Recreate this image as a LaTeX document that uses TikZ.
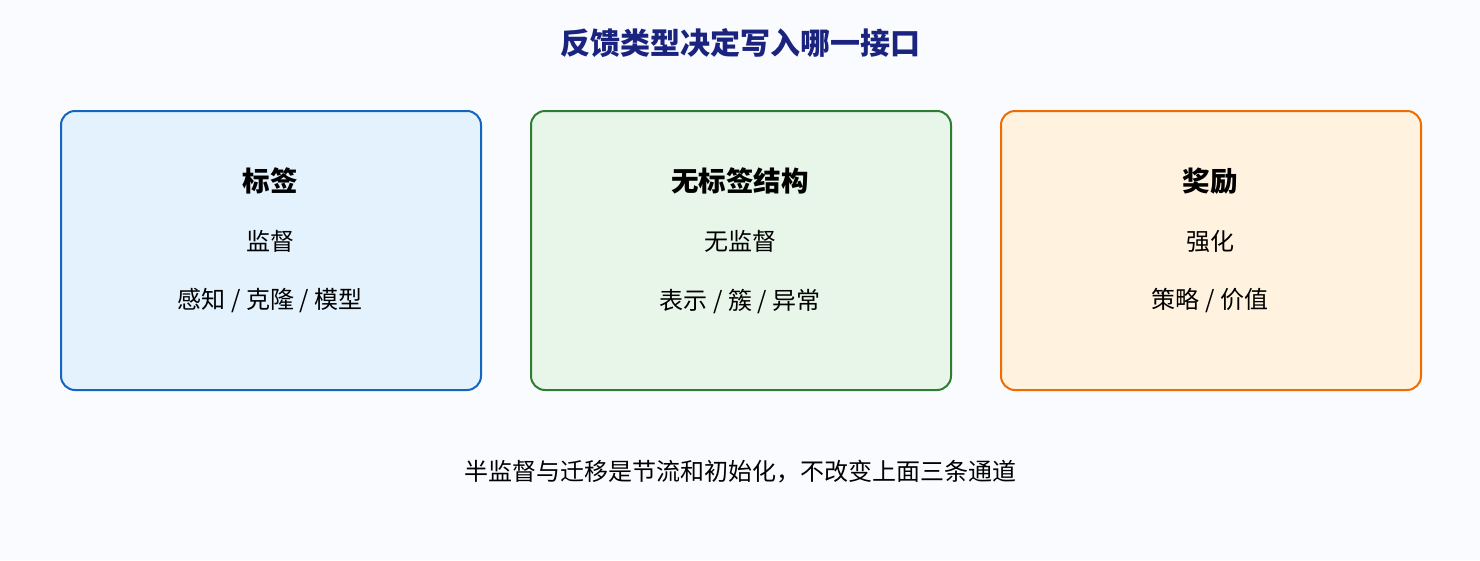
\documentclass[tikz,border=0pt]{standalone}
\usepackage{fontspec}
\setmainfont{Noto Sans CJK SC}
\definecolor{bg}{HTML}{FAFBFE}
\definecolor{navy}{HTML}{1A237E}
\definecolor{bluedraw}{HTML}{1565C0}
\definecolor{bluefill}{HTML}{E3F2FD}
\definecolor{greendraw}{HTML}{2E7D32}
\definecolor{greenfill}{HTML}{E8F5E9}
\definecolor{orangedraw}{HTML}{EF6C00}
\definecolor{orangefill}{HTML}{FFF3E0}
\tikzset{
  card/.style={draw=#1draw, fill=#1fill, line width=2pt, rounded corners=14pt, minimum width=420pt, minimum height=279pt, inner sep=0pt, anchor=north west},
  cardtitle/.style={font=\fontsize{27.5}{32}\selectfont\bfseries, text=black},
  cardline/.style={font=\fontsize{24}{28}\selectfont, text=black},
}
\begin{document}
\begin{tikzpicture}[x=1pt,y=1pt]
\fill[bg] (0,0) rectangle (1480,-560);
\useasboundingbox (0,0) rectangle (1480,-560);
\node[font=\fontsize{30}{34}\selectfont\bfseries, text=navy] (title) at (740,-43) {反馈类型决定写入哪一接口};
\node[card=blue] (b1) at (60,-110) {};
\node[card=green] (b2) at (530,-110) {};
\node[card=orange] (b3) at (1000,-110) {};
\node[cardtitle] (t1) at (270,-181) {标签};
\node[cardline] (s1) at (270,-241) {监督};
\node[cardline] (d1) at (270,-301) {感知 / 克隆 / 模型};
\node[cardtitle] (t2) at (740,-181) {无标签结构};
\node[cardline] (s2) at (740,-241) {无监督};
\node[cardline] (d2) at (740,-301) {表示 / 簇 / 异常};
\node[cardtitle] (t3) at (1210,-181) {奖励};
\node[cardline] (s3) at (1210,-241) {强化};
\node[cardline] (d3) at (1210,-301) {策略 / 价值};
\node[font=\fontsize{24}{28}\selectfont, text=black] (note) at (740,-472) {半监督与迁移是节流和初始化，不改变上面三条通道};
\end{tikzpicture}
\end{document}
